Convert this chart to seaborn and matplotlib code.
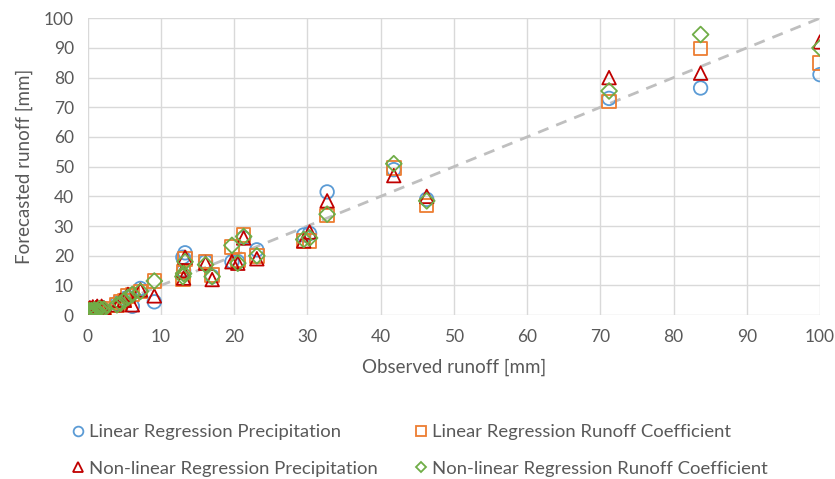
import matplotlib
matplotlib.use('Agg')
import matplotlib.pyplot as plt
from matplotlib.lines import Line2D
import pandas as pd
import seaborn as sns

observed = [0.0, 0.1, 0.2, 0.3, 0.4, 0.5, 0.6, 0.7, 0.9, 1.0, 1.1, 1.3, 1.5, 1.6, 1.9, 2.2,
            4.0, 4.5, 5.0, 5.5, 6.1, 7.2, 9.1, 13.0, 13.1, 13.3, 16.1, 17.0,
            19.7, 20.5, 21.3, 23.1, 29.5, 30.3, 32.7, 41.8, 46.3, 71.2, 83.7, 100.0]
lin_precip = [0.5, 1.0, 0.3, 0.8, 1.2, 1.5, 0.4, 0.6, 1.2, 0.8, 1.0, 2.0, 1.2, 1.5, 2.5, 1.8,
              4.0, 4.0, 5.5, 6.0, 3.0, 9.0, 4.5, 19.5, 15.0, 21.0, 18.0, 13.0,
              18.0, 18.0, 26.0, 22.0, 27.0, 27.5, 41.5, 49.0, 39.0, 73.0, 76.5, 81.0]
lin_coeff = [1.0, 0.5, 1.8, 1.5, 0.6, 1.0, 1.4, 2.0, 0.8, 1.6, 1.5, 1.2, 2.2, 2.0, 1.5, 2.2,
             3.5, 4.5, 5.0, 6.5, 7.0, 8.0, 11.5, 12.0, 14.5, 19.0, 18.0, 13.5,
             23.0, 18.5, 27.0, 20.0, 25.0, 25.0, 33.5, 49.5, 37.0, 72.0, 89.8, 85.0]
nonlin_precip = [2.0, 1.5, 0.8, 2.5, 2.2, 1.0, 2.0, 2.8, 1.5, 0.6, 2.5, 3.0, 1.0, 2.0, 3.0, 2.5,
                 3.5, 5.0, 5.0, 7.0, 3.5, 8.5, 6.5, 15.0, 12.5, 19.5, 17.5, 12.0,
                 18.0, 17.5, 26.0, 19.0, 25.0, 28.0, 38.5, 47.0, 40.0, 80.0, 81.5, 92.0]
nonlin_coeff = [1.0, 0.8, 1.5, 1.2, 0.5, 1.5, 1.0, 1.0, 1.8, 1.2, 1.2, 1.5, 0.8, 2.2, 1.8, 2.0,
                3.5, 4.0, 5.0, 6.0, 7.0, 8.0, 11.5, 13.0, 14.0, 18.0, 17.0, 13.0,
                23.5, 17.5, 26.5, 20.0, 25.5, 26.0, 34.0, 51.0, 38.5, 75.5, 94.5, 90.0]

series = [
    ('Linear Regression Precipitation', lin_precip, 'o', '#5B9BD5'),
    ('Linear Regression Runoff Coefficient', lin_coeff, 's', '#ED7D31'),
    ('Non-linear Regression Precipitation', nonlin_precip, '^', '#C00000'),
    ('Non-linear Regression Runoff Coefficient', nonlin_coeff, 'D', '#70AD47'),
]

sns.set_theme(style='whitegrid')
plt.rcParams['font.family'] = ['Lato', 'DejaVu Sans']

fig = plt.figure(figsize=(8.35, 4.79), dpi=100)
ax = fig.add_axes([0.105, 0.342, 0.877, 0.620])

ax.plot([0, 100], [0, 100], ls=(0, (4, 3)), color='#BFBFBF', lw=2, zorder=1)

handles = {}
for name, vals, mk, col in series:
    df = pd.DataFrame({'obs': observed, 'fc': vals})
    size = 65 if mk == 'D' else 95
    sns.scatterplot(data=df, x='obs', y='fc', ax=ax, marker=mk, s=size,
                    facecolors='none', edgecolor=col, linewidth=1.3, zorder=3)
    handles[name] = Line2D([], [], ls='none', marker=mk, mfc='none', mec=col,
                           mew=1.3, ms=7 if mk != 'D' else 5.5, label=name)

ax.set_xlim(0, 100)
ax.set_ylim(0, 100)
ax.set_xticks(range(0, 101, 10))
ax.set_yticks(range(0, 101, 10))
ax.grid(True, color='#D9D9D9', lw=1)
for s in ax.spines.values():
    s.set_visible(False)
ax.tick_params(colors='#595959', labelsize=12.5, length=0, pad=10)
ax.set_xlabel('Observed runoff [mm]', color='#595959', fontsize=13.5, labelpad=10)
ax.set_ylabel('Forecasted runoff [mm]', color='#595959', fontsize=13.5, labelpad=8)

order = [series[0][0], series[2][0], series[1][0], series[3][0]]
leg = fig.legend(handles=[handles[n] for n in order], loc='lower left',
                 bbox_to_anchor=(0.062, -0.03), ncol=2, frameon=False,
                 fontsize=13.3, columnspacing=1.85, handletextpad=0.1,
                 handlelength=1.0, labelspacing=1.1)
for t in leg.get_texts():
    t.set_color('#595959')

fig.savefig('out.png', dpi=100)
